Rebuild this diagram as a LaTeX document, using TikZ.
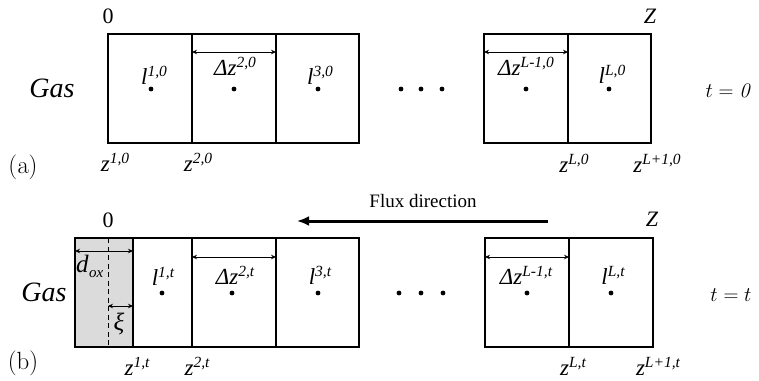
\documentclass[tikz,border=0pt]{standalone}
\usepackage[no-math]{fontspec}
\setmainfont{Liberation Serif}
\usetikzlibrary{arrows.meta}
\newcommand\spr[1]{\raisebox{8pt}{\fontsize{15.5}{15.5}\selectfont #1}}
\tikzset{
  celldraw/.style={draw, line width=1.4pt},
  labtxt/.style={inner sep=0pt, anchor=base, font=\fontsize{23}{23}\selectfont\itshape},
  bigtxt/.style={inner sep=0pt, anchor=base, font=\fontsize{28}{28}\selectfont\itshape},
  endtxt/.style={inner sep=0pt, anchor=base, font=\fontsize{22}{22}\selectfont},
  cmtxt/.style={inner sep=0pt, anchor=base, font=\fontsize{21}{21}\selectfont},
  captxt/.style={inner sep=0pt, font=\fontsize{27}{27}\selectfont},
  dimarrow/.style={{Stealth[length=5pt,width=4.5pt]}-{Stealth[length=5pt,width=4.5pt]}, line width=0.9pt},
  dotpt/.style={fill, circle, inner sep=0pt, minimum size=4.8pt},
}
\begin{document}
\begin{tikzpicture}[x=1pt,y=-1pt]
\useasboundingbox (0,0) rectangle (759,380);
% ===== panel (a) =====
\draw[celldraw] (108,34) rectangle (359,143);
\draw[celldraw] (192,34) -- (192,143);
\draw[celldraw] (276,34) -- (276,143);
\draw[celldraw] (484,34) rectangle (651,143);
\draw[celldraw] (568,34) -- (568,143);
\coordinate (a1) at (192,52); \coordinate (a2) at (276,52);
\coordinate (a3) at (484,52); \coordinate (a4) at (568,52);
\draw[dimarrow] (a1) -- (a2);
\draw[dimarrow] (a3) -- (a4);
\foreach \x/\n in {151/p1,234/p2,318/p3,526/p4,609/p5,401/e1,421/e2,442/e3}
  \node[dotpt] (a\n) at (\x,89) {};
\node[labtxt] (l10) at (154,84) {l\spr{1,0}};
\node[labtxt] (dz20) at (235,75) {Δz\spr{2,0}};
\node[labtxt] (l30) at (320,84) {l\spr{3,0}};
\node[labtxt] (dzL0) at (526,75) {Δz\spr{L-1,0}};
\node[labtxt] (lL0) at (612,83) {l\spr{L,0}};
\node[endtxt] (o0) at (108,23) {0};
\node[endtxt,font=\fontsize{22}{22}\selectfont\itshape] (Z0) at (650,23) {Z};
\node[bigtxt] (gasa) at (52,97) {Gas};
\node[cmtxt] (t0) at (729,97) {$t = \mathit{0}$};
\node[labtxt] (z10) at (115,171) {z\spr{1,0}};
\node[labtxt] (z20) at (198,171) {z\spr{2,0}};
\node[labtxt] (zL0) at (574,172) {z\spr{L,0}};
\node[labtxt] (zL10) at (657,172) {z\spr{L+1,0}};
\node[captxt] (capa) at (23,167) {$(\mathrm{a})$};
% ===== panel (b) =====
\fill[gray!28] (75,238) rectangle (133,347);
\draw[celldraw] (75,238) rectangle (359,347);
\draw[celldraw] (133,238) -- (133,347);
\draw[celldraw] (192,238) -- (192,347);
\draw[celldraw] (276,238) -- (276,347);
\draw[celldraw] (485,238) rectangle (653,347);
\draw[celldraw] (569,238) -- (569,347);
\draw[line width=0.9pt, dash pattern=on 5pt off 3.5pt] (108,238) -- (108,347);
\coordinate (b1) at (75,251); \coordinate (b2) at (133,251);
\coordinate (b3) at (108,306); \coordinate (b4) at (133,306);
\coordinate (b5) at (192,257); \coordinate (b6) at (276,257);
\coordinate (b7) at (485,257); \coordinate (b8) at (569,257);
\draw[dimarrow] (b1) -- (b2);
\draw[dimarrow] (b3) -- (b4);
\draw[dimarrow] (b5) -- (b6);
\draw[dimarrow] (b7) -- (b8);
\foreach \x/\n in {162/p1,232/p2,318/p3,527/p4,611/p5,399/e1,421/e2,443/e3}
  \node[dotpt] (b\n) at (\x,293) {};
\coordinate (fs) at (548,221); \coordinate (fe) at (297,221);
\draw[line width=3pt, -{Latex[length=12pt,width=10pt]}] (fs) -- (fe);
\node[inner sep=0pt, anchor=base, font=\fontsize{19}{19}\selectfont] (flux) at (423,207) {Flux direction};
\node[labtxt] (l1t) at (163,285) {l\spr{1,t}};
\node[labtxt] (dz2t) at (235,284) {Δz\spr{2,t}};
\node[labtxt] (l3t) at (320,284) {l\spr{3,t}};
\node[labtxt] (dzLt) at (526,284) {Δz\spr{L-1,t}};
\node[labtxt] (lLt) at (613,284) {l\spr{L,t}};
\node[labtxt, anchor=base west, font=\fontsize{25}{25}\selectfont\itshape] (dox) at (76,272) {d};
\node[labtxt, anchor=base west, font=\fontsize{15}{15}\selectfont\itshape] (ox) at (89,277) {ox};
\node[labtxt, font=\fontsize{25}{25}\selectfont\itshape] (xi) at (119,330) {ξ};
\node[endtxt] (o1) at (108,227) {0};
\node[endtxt,font=\fontsize{22}{22}\selectfont\itshape] (Z1) at (652,226) {Z};
\node[bigtxt] (gasb) at (44,301) {Gas};
\node[cmtxt] (tt) at (731,301) {$t = t$};
\node[labtxt] (z1t) at (137,375) {z\spr{1,t}};
\node[labtxt] (z2t) at (197,375) {z\spr{2,t}};
\node[labtxt] (zLt) at (573,375) {z\spr{L,t}};
\node[labtxt] (zL1t) at (658,375) {z\spr{L+1,t}};
\node[captxt] (capb) at (23,363) {$(\mathrm{b})$};
\end{tikzpicture}
\end{document}
